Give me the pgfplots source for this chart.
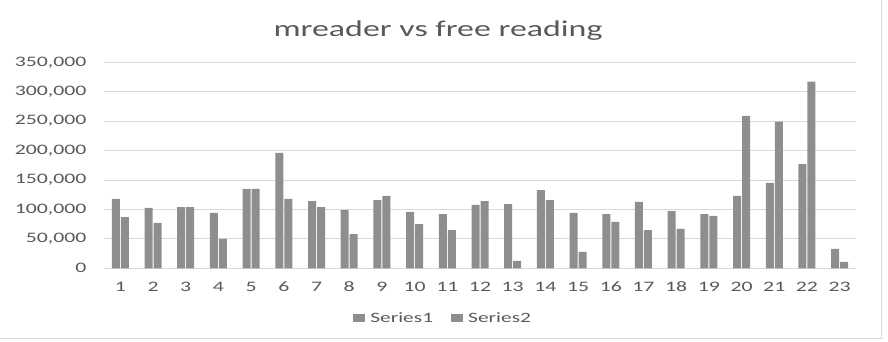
\documentclass[border=0pt]{standalone}
\usepackage{fontspec}
\setmainfont{Carlito}[FakeStretch=1.5]
\usepackage{pgfplots}
\pgfplotsset{compat=1.18}
\definecolor{bargray}{HTML}{8E8E8E}
\definecolor{txtgray}{HTML}{595959}
\definecolor{gridgray}{HTML}{D9D9D9}
\begin{document}
\begin{tikzpicture}
\path[use as bounding box] (0pt,0pt) rectangle (888pt,342pt);
\draw[gridgray] (881.5pt,342pt) -- (881.5pt,4pt) -- (0pt,4pt);
\node[text=txtgray,font=\fontsize{22.6}{26}\selectfont] at (438pt,311pt) {mreader vs free reading};
\begin{axis}[
  at={(104pt,73.7pt)}, anchor=south west,
  scale only axis, width=752pt, height=206pt,
  ymin=0, ymax=350000,
  xmin=0.5, xmax=23.5,
  ytick={0,50000,100000,150000,200000,250000,300000,350000},
  yticklabels={0,{50,000},{100,000},{150,000},{200,000},{250,000},{300,000},{350,000}},
  xtick={1,...,23},
  xticklabels={1,2,3,4,5,6,7,8,9,10,11,12,13,14,15,16,17,18,19,20,21,22,23},
  ybar=1pt, bar width=8pt,
  axis line style={draw=none},
  major tick length=0pt,
  ymajorgrids, grid style={gridgray, line width=0.8pt},
  scaled y ticks=false,
  tick label style={text=txtgray, font=\fontsize{14.5}{16}\selectfont},
  yticklabel style={xshift=-14pt},
  xticklabel style={yshift=-10pt},
  legend style={at={(0.451,-0.241)}, anchor=center, draw=none, fill=none,
    legend columns=2, font=\fontsize{14.3}{16}\selectfont, text=txtgray,
    /tikz/every odd column/.append style={column sep=3pt},
    /tikz/every even column/.append style={column sep=16pt}},
  legend image code/.code={\fill[bargray] (0pt,-4pt) rectangle (12pt,4pt);},
]
\addplot[fill=bargray, draw=none] coordinates {
(1,117800) (2,102500) (3,104000) (4,94000) (5,135000) (6,196000) (7,114000) (8,99000)
(9,116000) (10,96000) (11,92000) (12,107600) (13,109000) (14,133000) (15,94000) (16,92000)
(17,113000) (18,97000) (19,92000) (20,123000) (21,145000) (22,177000) (23,33000)};
\addplot[fill=bargray, draw=none] coordinates {
(1,87000) (2,77000) (3,104000) (4,50000) (5,135000) (6,118000) (7,104000) (8,58000)
(9,123000) (10,75000) (11,65000) (12,114000) (13,12500) (14,116000) (15,28000) (16,79000)
(17,65000) (18,67000) (19,89000) (20,259000) (21,249000) (22,317000) (23,11000)};
\legend{Series1,Series2}
\end{axis}
\end{tikzpicture}
\end{document}
